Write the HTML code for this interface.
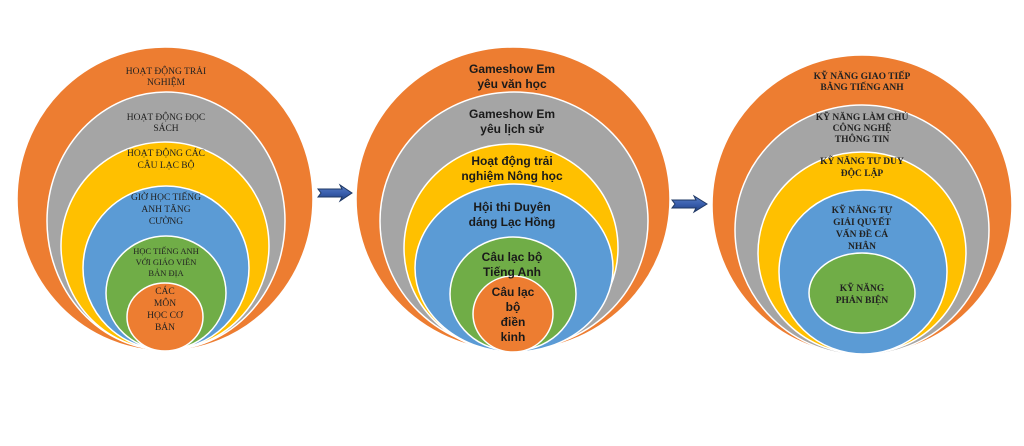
<!DOCTYPE html>
<html><head><meta charset="utf-8"><style>
html,body{margin:0;padding:0;background:#fff;}
svg{display:block}
.s{font-family:"Liberation Serif","DejaVu Serif",serif;font-size:9.5px;fill:#222;}
.a{font-family:"Liberation Sans","DejaVu Sans",sans-serif;font-size:12px;font-weight:bold;fill:#1a1a1a;}
.b{font-weight:bold}
</style></head><body>
<svg width="1024" height="446" viewBox="0 0 1024 446" xmlns="http://www.w3.org/2000/svg">
<defs><linearGradient id="g" x1="0" y1="0" x2="0" y2="1"><stop offset="0" stop-color="#5b7fc4"/><stop offset="0.5" stop-color="#3a5fae"/><stop offset="1" stop-color="#1f3f80"/></linearGradient></defs>
<g stroke="#fff" stroke-width="1.5">
<ellipse cx="165" cy="199" rx="148" ry="152" fill="#ed7d31"/>
<ellipse cx="166" cy="221" rx="119" ry="129" fill="#a5a5a5"/>
<ellipse cx="165" cy="246" rx="104" ry="104" fill="#ffc000"/>
<ellipse cx="166" cy="268" rx="83" ry="82" fill="#5b9bd5"/>
<ellipse cx="166" cy="293" rx="60" ry="57" fill="#70ad47"/>
<ellipse cx="165" cy="317" rx="38" ry="34" fill="#ed7d31"/>

<ellipse cx="513" cy="199" rx="157" ry="152" fill="#ed7d31"/>
<ellipse cx="514" cy="221" rx="134" ry="129" fill="#a5a5a5"/>
<ellipse cx="511" cy="248" rx="107" ry="104" fill="#ffc000"/>
<ellipse cx="514" cy="268" rx="99" ry="84" fill="#5b9bd5"/>
<ellipse cx="513" cy="294" rx="63" ry="57" fill="#70ad47"/>
<ellipse cx="513" cy="314" rx="40" ry="38" fill="#ed7d31"/>

<ellipse cx="862" cy="205" rx="150" ry="150" fill="#ed7d31"/>
<ellipse cx="862" cy="230" rx="127" ry="125" fill="#a5a5a5"/>
<ellipse cx="862" cy="253" rx="104" ry="101" fill="#ffc000"/>
<ellipse cx="863" cy="272" rx="84" ry="82" fill="#5b9bd5"/>
<ellipse cx="862" cy="293" rx="53" ry="40" fill="#70ad47"/>
</g>
<path d="M318 189 L342 189 L340 185 L352 193 L340 201 L342 197 L318 197 L321 193 Z" fill="url(#g)" stroke="#1f3864" stroke-width="1"/>
<path d="M672 200 L696 200 L694 196 L707 204 L694 212 L696 208 L672 208 L675 204 Z" fill="url(#g)" stroke="#1f3864" stroke-width="1"/>

<g class="s" text-anchor="middle">
<text x="166" y="74">HOẠT ĐỘNG TRẢI</text><text x="166" y="85">NGHIỆM</text>
<text x="166" y="120">HOẠT ĐỘNG ĐỌC</text><text x="166" y="131">SÁCH</text>
<text x="166" y="156">HOẠT ĐỘNG CÁC</text><text x="166" y="168">CÂU LẠC BỘ</text>
<text x="166" y="200">GIỜ HỌC TIẾNG</text><text x="166" y="212">ANH TĂNG</text><text x="166" y="224">CƯỜNG</text>
<text x="166" y="254" font-size="8.5">HỌC TIẾNG ANH</text><text x="166" y="265" font-size="8.5">VỚI GIÁO VIÊN</text><text x="166" y="276" font-size="8.5">BẢN ĐỊA</text>
<text x="165" y="294">CÁC</text><text x="165" y="306">MÔN</text><text x="165" y="318">HỌC CƠ</text><text x="165" y="330">BẢN</text>
</g>
<g class="a" text-anchor="middle">
<text x="512" y="73">Gameshow Em</text><text x="512" y="88">yêu văn học</text>
<text x="512" y="118">Gameshow Em</text><text x="512" y="133">yêu lịch sử</text>
<text x="512" y="165">Hoạt động trải</text><text x="512" y="180">nghiệm Nông học</text>
<text x="512" y="211">Hội thi Duyên</text><text x="512" y="226">dáng Lạc Hồng</text>
<text x="512" y="261">Câu lạc bộ</text><text x="512" y="276">Tiếng Anh</text>
<text x="513" y="296">Câu lạc</text><text x="513" y="311">bộ</text><text x="513" y="326">điền</text><text x="513" y="341">kinh</text>
</g>
<g class="s b" text-anchor="middle">
<text x="862" y="79">KỸ NĂNG GIAO TIẾP</text><text x="862" y="90">BẰNG TIẾNG ANH</text>
<text x="862" y="120">KỸ NĂNG LÀM CHỦ</text><text x="862" y="131">CÔNG NGHỆ</text><text x="862" y="142">THÔNG TIN</text>
<text x="862" y="164">KỸ NĂNG TƯ DUY</text><text x="862" y="176">ĐỘC LẬP</text>
<text x="862" y="213">KỸ NĂNG TỰ</text><text x="862" y="225">GIẢI QUYẾT</text><text x="862" y="237">VẤN ĐỀ CÁ</text><text x="862" y="249">NHÂN</text>
<text x="862" y="291">KỸ NĂNG</text><text x="862" y="303">PHẢN BIỆN</text>
</g>
</svg>
</body></html>
